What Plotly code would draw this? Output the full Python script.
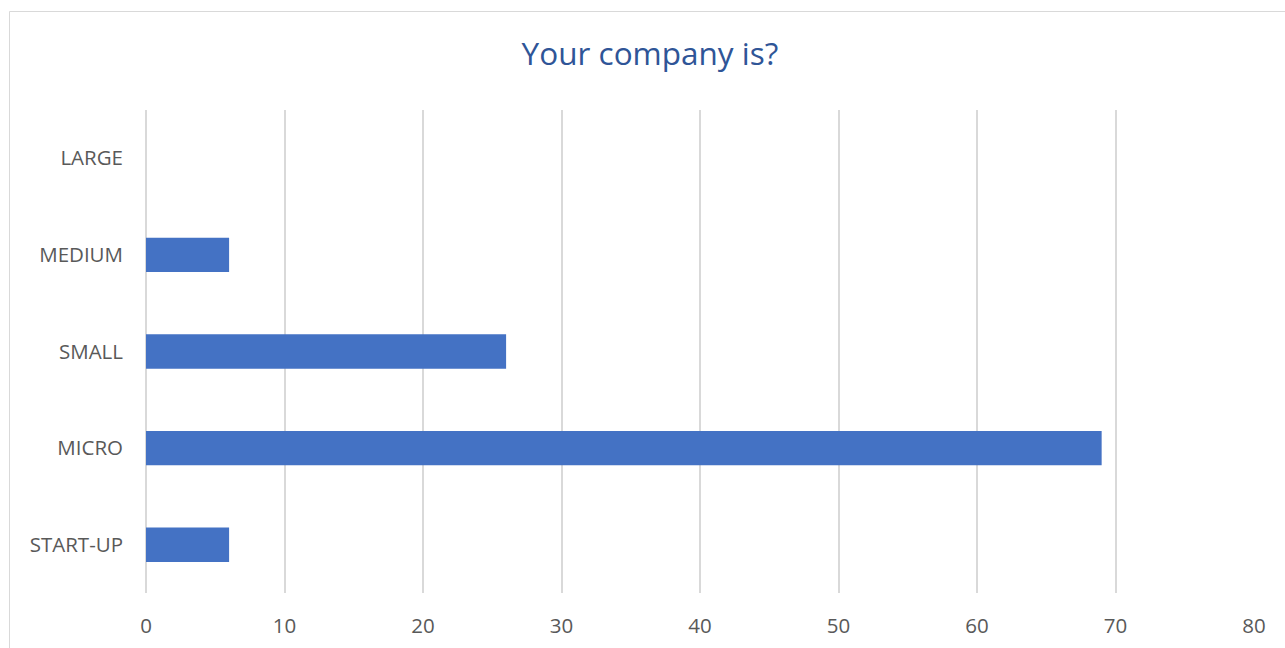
import plotly.graph_objects as go

# Survey responses: company size
categories = ["START-UP", "MICRO", "SMALL", "MEDIUM", "LARGE"]
counts = [6, 69, 26, 6, 0]
x_ticks = [0, 10, 20, 30, 40, 50, 60, 70, 80]

W, H = 1285, 648
L, R, T, B = 146, 31, 110, 55
pw, ph = W - L - R, H - T - B

fig = go.Figure(
    go.Bar(
        x=counts,
        y=categories,
        orientation="h",
        marker=dict(color="#4472C4", line=dict(width=0)),
    )
)

font_family = "Open Sans, Liberation Sans, sans-serif"

fig.update_layout(
    width=W,
    height=H,
    margin=dict(l=L, r=R, t=T, b=B, autoexpand=False),
    paper_bgcolor="white",
    plot_bgcolor="white",
    bargap=0.644,
    showlegend=False,
    title=dict(
        text="Your company is?",
        x=650 / W,
        xanchor="center",
        y=1 - 54 / H,
        yanchor="middle",
        font=dict(family=font_family, size=31.5, color="#2F5597"),
    ),
    xaxis=dict(
        range=[0, 80],
        tickvals=x_ticks,
        showgrid=True,
        gridcolor="#D9D9D9",
        gridwidth=1.5,
        zeroline=True,
        zerolinecolor="#D9D9D9",
        zerolinewidth=1.5,
        showline=False,
        ticks="",
        ticklabelstandoff=18,
        tickfont=dict(family=font_family, size=20.5, color="#595959"),
    ),
    yaxis=dict(
        categoryorder="array",
        categoryarray=categories,
        showgrid=False,
        zeroline=False,
        showline=False,
        ticks="",
        ticklabelstandoff=22,
        tickfont=dict(family=font_family, size=20.5, color="#595959"),
    ),
    shapes=[
        dict(
            type="rect",
            xref="paper",
            yref="paper",
            x0=(9.5 - L) / pw,
            x1=(W + 10 - L) / pw,
            y0=-(B + 10) / ph,
            y1=1 + (T - 11.5) / ph,
            line=dict(color="#D9D9D9", width=1),
            fillcolor="rgba(0,0,0,0)",
            layer="below",
        )
    ],
)

fig.write_html("out.html")
